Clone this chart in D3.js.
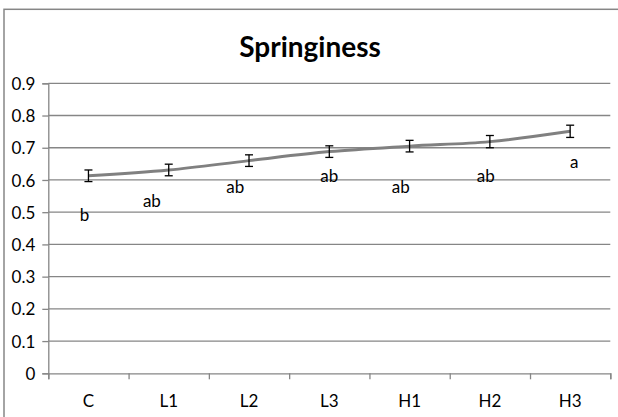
<!DOCTYPE html>
<html>
<head>
<meta charset="utf-8">
<script src="https://cdn.jsdelivr.net/npm/d3@7"></script>
<style>
  body { margin: 0; background: #fff; }
  text { font-family: Lato, "Open Sans", sans-serif; fill: #000; }
</style>
</head>
<body>
<div id="chart"></div>
<script>
// Données
const traitements = ["C", "L1", "L2", "L3", "H1", "H2", "H3"];
const moyennes = [0.613, 0.631, 0.660, 0.688, 0.705, 0.719, 0.751];
const erreurs = [0.018, 0.018, 0.018, 0.018, 0.018, 0.019, 0.019];
const lettres = ["b", "ab", "ab", "ab", "ab", "ab", "a"];
const lettresY = [0.473, 0.517, 0.559, 0.593, 0.559, 0.593, 0.636];   // ligne de base des lettres
const lettresDecalage = [-0.05, -0.21, -0.17, 0, -0.11, -0.05, 0.05]; // en largeur de catégorie
const yTicks = [0, 0.1, 0.2, 0.3, 0.4, 0.5, 0.6, 0.7, 0.8, 0.9];

const width = 618;
const height = 417;
const margin = { top: 83.3, right: 7.7, bottom: 43.7, left: 48.3 };
const gris = "#868686";

const svg = d3.select("#chart")
    .append("svg")
    .attr("width", width)
    .attr("height", height);

// Cadre du graphique (coupé à droite et en bas)
svg.append("rect")
    .attr("x", 4).attr("y", 9.3)
    .attr("width", width + 20).attr("height", height + 20)
    .attr("fill", "none")
    .attr("stroke", gris)
    .attr("stroke-width", 1.5);

svg.append("text")
    .attr("x", 310)
    .attr("y", 57)
    .attr("text-anchor", "middle")
    .style("font-size", "28px")
    .style("font-weight", "bold")
    .text("Springiness");

const x = d3.scaleBand()
    .domain(traitements)
    .range([margin.left, width - margin.right])
    .padding(0);

const xIdx = d3.scaleLinear()
    .domain([0, traitements.length])
    .range([margin.left, width - margin.right]);

const y = d3.scaleLinear()
    .domain([0, 0.9])
    .range([height - margin.bottom, margin.top]);

// Quadrillage horizontal
svg.append("g")
    .selectAll("line")
    .data(yTicks.filter(d => d > 0))
    .enter().append("line")
    .attr("x1", margin.left)
    .attr("x2", width - margin.right)
    .attr("y1", d => y(d))
    .attr("y2", d => y(d))
    .attr("stroke", gris)
    .attr("stroke-width", 1.3);

// Axe Y
const yAxis = svg.append("g")
    .attr("transform", `translate(${margin.left},0)`)
    .call(d3.axisLeft(y).tickValues(yTicks).tickSize(6).tickPadding(7).tickFormat(d => d === 0 ? "0" : d3.format(".1f")(d)));
yAxis.selectAll("text").style("font-size", "17px").attr("dy", "0.36em");

// Axe X : graduations entre les catégories
const xAxis = svg.append("g")
    .attr("transform", `translate(0,${height - margin.bottom})`)
    .call(d3.axisBottom(xIdx).tickValues(d3.range(traitements.length + 1)).tickSize(6).tickFormat(""));

const xLabels = svg.append("g")
    .attr("transform", `translate(0,${height - margin.bottom})`)
    .call(d3.axisBottom(x).tickSize(0).tickPadding(22));
xLabels.select(".domain").remove();
xLabels.selectAll("text").style("font-size", "17px");

svg.selectAll(".domain, .tick line")
    .attr("stroke", gris)
    .attr("stroke-width", 1.3);

// Courbe lissée
const ligne = d3.line()
    .x((d, i) => x(traitements[i]) + x.bandwidth() / 2)
    .y(d => y(d))
    .curve(d3.curveCatmullRom.alpha(0.5));

svg.append("path")
    .datum(moyennes)
    .attr("d", ligne)
    .attr("fill", "none")
    .attr("stroke", "#808080")
    .attr("stroke-width", 3);

// Barres d'erreur
const barres = svg.append("g")
    .attr("stroke", "#000")
    .attr("stroke-width", 1.3)
    .selectAll("g")
    .data(moyennes)
    .enter().append("g")
    .attr("transform", (d, i) => `translate(${x(traitements[i]) + x.bandwidth() / 2},0)`);

barres.append("line")
    .attr("y1", (d, i) => y(d + erreurs[i]))
    .attr("y2", (d, i) => y(d - erreurs[i]));
barres.append("line")
    .attr("x1", -4).attr("x2", 4)
    .attr("y1", (d, i) => y(d + erreurs[i]))
    .attr("y2", (d, i) => y(d + erreurs[i]));
barres.append("line")
    .attr("x1", -4).attr("x2", 4)
    .attr("y1", (d, i) => y(d - erreurs[i]))
    .attr("y2", (d, i) => y(d - erreurs[i]));

// Lettres de significativité
svg.append("g")
    .selectAll("text")
    .data(lettres)
    .enter().append("text")
    .attr("x", (d, i) => xIdx(i + 0.5 + lettresDecalage[i]))
    .attr("y", (d, i) => y(lettresY[i]))
    .attr("text-anchor", "middle")
    .style("font-size", "17px")
    .text(d => d);
</script>
</body>
</html>
